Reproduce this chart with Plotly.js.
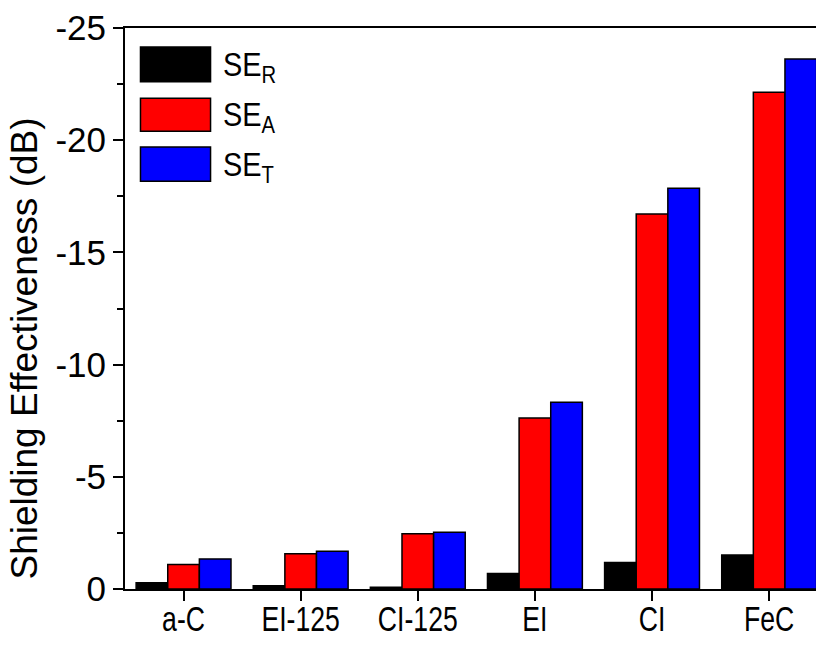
<!DOCTYPE html>
<html>
<head>
<meta charset="utf-8">
<script src="https://cdn.plot.ly/plotly-3.0.1.min.js"></script>
<style>html,body{margin:0;padding:0;overflow:hidden;background:#fff}</style>
</head>
<body>
<div id="chart" style="width:816px;height:645px;"></div>
<script>
var categories = ['a-C', 'EI-125', 'CI-125', 'EI', 'CI', 'FeC'];
var seR = [-0.28, -0.14, -0.08, -0.69, -1.18, -1.52];
var seA = [-1.09, -1.57, -2.46, -7.62, -16.71, -22.14];
var seT = [-1.34, -1.68, -2.53, -8.32, -17.86, -23.62];
var seriesNames = ['SE<sub>R</sub>', 'SE<sub>A</sub>', 'SE<sub>T</sub>'];
var seriesColors = ['#000000', '#ff0000', '#0000ff'];
var yTickVals = [0, -5, -10, -15, -20, -25];
var yTickText = ['0', '-5', '-10', '-15', '-20', '-25'];

var FONT = '"Liberation Sans", Arial, sans-serif';
var seriesData = [seR, seA, seT];
var traces = seriesData.map(function (vals, i) {
  return {
    type: 'bar', x: categories, y: vals, name: seriesNames[i],
    marker: {color: seriesColors[i], line: {color: '#000', width: 1.5}},
    showlegend: false, hoverinfo: 'x+y'
  };
});

// custom legend (large swatches like the original)
var shapes = [], annotations = [];
var boxY = [[0.904, 0.966], [0.816, 0.875], [0.727, 0.788]];
seriesNames.forEach(function (n, i) {
  shapes.push({type: 'rect', xref: 'paper', yref: 'paper', x0: 0.0224, x1: 0.1238,
    y0: boxY[i][0], y1: boxY[i][1], fillcolor: seriesColors[i], line: {color: '#000', width: 1.5}});
  annotations.push({xref: 'paper', yref: 'paper', x: 0.139, y: (boxY[i][0] + boxY[i][1]) / 2 - 0.004,
    xanchor: 'left', yanchor: 'middle', text: n, showarrow: false,
    font: {family: FONT, size: 34, color: '#000'}});
});

var layout = {
  width: 816, height: 645,
  margin: {l: 125, r: 0, t: 28, b: 56},
  paper_bgcolor: '#fff', plot_bgcolor: '#fff',
  barmode: 'group', bargap: 0.19, bargroupgap: 0,
  font: {family: FONT, size: 30, color: '#000'},
  xaxis: {
    range: [-0.5, 5.4], showline: true, linecolor: '#000', linewidth: 2,
    mirror: true, ticks: 'outside', ticklen: 10, tickwidth: 2, tickcolor: '#000',
    showgrid: false, zeroline: false, tickfont: {family: FONT, size: 36}
  },
  yaxis: {
    range: [0, -25], tickvals: yTickVals, ticktext: yTickText,
    showline: true, linecolor: '#000', linewidth: 2, ticks: 'outside',
    ticklen: 10, tickwidth: 2, tickcolor: '#000', showgrid: false, zeroline: false,
    minor: {dtick: 2.5, ticks: 'outside', ticklen: 6, tickwidth: 2, tickcolor: '#000', showgrid: false},
    tickfont: {family: FONT, size: 35},
    title: {text: 'Shielding Effectiveness (dB)', font: {family: FONT, size: 37}, standoff: 6}
  },
  shapes: shapes, annotations: annotations
};

function squeeze(el, sx, ox, dy) {
  var t = el.getAttribute('transform') || '';
  el.setAttribute('transform', t + ' translate(' + ox + ',' + (dy || 0) + ') scale(' + sx + ',1) translate(' + (-ox) + ',0)');
}

Plotly.newPlot('chart', traces, layout, {displayModeBar: false, staticPlot: true}).then(function (gd) {
  // the original uses a condensed face for category labels and legend text
  gd.querySelectorAll('.xtick text').forEach(function (el) {
    squeeze(el, 0.74, parseFloat(el.getAttribute('x') || 0), -13);
  });
  gd.querySelectorAll('.annotation-text').forEach(function (el) {
    var b = el.getBBox();
    squeeze(el, 0.85, b.x, 0);
  });
  // the original's axis title sits lower than the plot centre
  var yt = gd.querySelector('.g-ytitle');
  if (yt) yt.setAttribute('transform', 'translate(0,40)');
});
</script>
</body>
</html>
